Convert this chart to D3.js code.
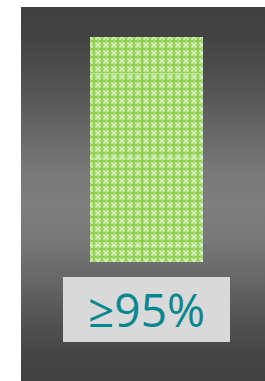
<!DOCTYPE html>
<html>
<head>
<meta charset="utf-8">
<script src="https://cdn.jsdelivr.net/npm/d3@7"></script>
<style>
  html, body { margin: 0; padding: 0; background: #fff; }
</style>
</head>
<body>
<svg id="chart"></svg>
<script>
// data
const categories = ['≥95%']
const values = [100]
const seamValues = [84, 46, 7.6]   // where the tiled fill shows a seam
const seamSplit = [0.465]          // vertical seam, as share of bar width

const width = 265, height = 381

const svg = d3.select('#chart')
    .attr('width', width)
    .attr('height', height)

const defs = svg.append('defs')

// dark panel gradient, light in the middle
const grad = defs.append('linearGradient')
    .attr('id', 'panelGrad')
    .attr('x1', 0).attr('y1', 0).attr('x2', 0).attr('y2', 1)
const gradStops = [[0, '#404040'], [8, '#434343'], [20, '#515151'], [33, '#676767'],
    [44, '#787878'], [53, '#7e7e7e'], [62, '#787878'], [73, '#676767'],
    [85, '#515151'], [93, '#454545'], [100, '#414141']]
grad.selectAll('stop')
    .data(gradStops)
    .join('stop')
        .attr('offset', d => d[0] + '%')
        .attr('stop-color', d => d[1])

// green lattice fill: green crosses inside a light diamond lattice
const pat = defs.append('pattern')
    .attr('id', 'lattice')
    .attr('patternUnits', 'userSpaceOnUse')
    .attr('width', 8).attr('height', 8)
    .attr('x', 90).attr('y', 37)
pat.append('rect').attr('width', 8).attr('height', 8).attr('fill', '#a4da6d')
pat.append('path')
    .attr('d', 'M0,0L8,8M8,0L0,8')
    .attr('stroke', '#def2c9').attr('stroke-width', 1.25)
pat.append('rect').attr('x', 3).attr('y', 1).attr('width', 2).attr('height', 6).attr('fill', '#8fd050')
pat.append('rect').attr('x', 1).attr('y', 3).attr('width', 6).attr('height', 2).attr('fill', '#8fd050')
pat.append('rect').attr('x', 2.5).attr('y', 2.5).attr('width', 3).attr('height', 3).attr('fill', '#8fd050')

// background panel
svg.append('rect')
    .attr('x', 21).attr('y', 7)
    .attr('width', width - 21).attr('height', height - 7)
    .attr('fill', 'url(#panelGrad)')

// scales
const x = d3.scaleBand()
    .domain(categories)
    .range([90, 203])
    .padding(0)

const y = d3.scaleLinear()
    .domain([0, 100])
    .range([262, 37])

// bar
svg.append('g')
    .selectAll('rect')
    .data(values)
    .join('rect')
        .attr('x', (d, i) => x(categories[i]))
        .attr('y', d => y(d))
        .attr('width', x.bandwidth())
        .attr('height', d => y(0) - y(d))
        .attr('fill', 'url(#lattice)')

// tile seams
const seams = svg.append('g').attr('opacity', 0.55)
seams.selectAll('line.h')
    .data(seamValues)
    .join('line')
        .attr('class', 'h')
        .attr('x1', x(categories[0])).attr('x2', x(categories[0]) + x.bandwidth())
        .attr('y1', d => y(d) + 0.5).attr('y2', d => y(d) + 0.5)
        .attr('stroke', '#e4f4d0').attr('stroke-width', 1)
seams.selectAll('line.v')
    .data(seamSplit)
    .join('line')
        .attr('class', 'v')
        .attr('x1', d => x(categories[0]) + d * x.bandwidth())
        .attr('x2', d => x(categories[0]) + d * x.bandwidth())
        .attr('y1', y(100)).attr('y2', y(0))
        .attr('stroke', '#7cc63c').attr('stroke-width', 1)

// label box
const label = svg.append('g')
label.append('rect')
    .attr('x', 63).attr('y', 277)
    .attr('width', 167).attr('height', 65)
    .attr('fill', '#d9d9d9')
label.selectAll('text')
    .data(categories)
    .join('text')
        .attr('x', 146.5)
        .attr('y', 327)
        .attr('text-anchor', 'middle')
        .attr('font-family', '"Open Sans", sans-serif')
        .attr('font-size', 46)
        .attr('fill', '#00878f')
        .text(d => d)
</script>
</body>
</html>
